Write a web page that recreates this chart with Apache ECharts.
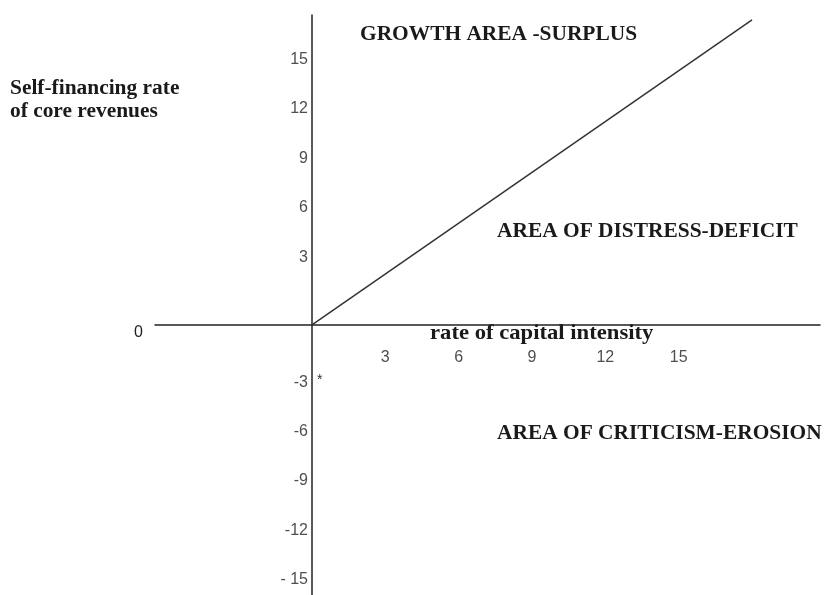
<!DOCTYPE html>
<html>
<head>
<meta charset="utf-8">
<script src="https://cdn.jsdelivr.net/npm/echarts@6/dist/echarts.min.js"></script>
<style>html,body{margin:0;padding:0;background:#fff}#c{width:825px;height:595px}</style>
</head>
<body>
<div id="c"></div>
<script>
// Data
var yTickValues = [15, 12, 9, 6, 3, -3, -6, -9, -12, -15];
var yTickLabels = ['15', '12', '9', '6', '3', '-3', '-6', '-9', '-12', '- 15'];
var xTickValues = [3, 6, 9, 12, 15];
var xTickLabels = ['3', '6', '9', '12', '15'];
var lineX = [0, 18];
var lineY = [0, 18.5];
var regionLabels = ['GROWTH AREA -SURPLUS', 'AREA OF DISTRESS-DEFICIT', 'AREA OF CRITICISM-EROSION'];
var xAxisTitle = 'rate of capital intensity';
var yAxisTitle = 'Self-financing rate\nof core revenues';

var chart = echarts.init(document.getElementById('c'));
var sans = 'Liberation Sans';
var lineData = lineX.map(function (x, i) { return [x, lineY[i]]; });
var yTickData = yTickValues.map(function (v, i) {
  return {
    value: [0, v],
    label: { formatter: yTickLabels[i], offset: [0, v > 0 ? -18 : 8] }
  };
});
var xTickData = xTickValues.map(function (v, i) {
  return { value: [v, 0], label: { formatter: xTickLabels[i] } };
});
var boldSerif = function (size) { return 'bold ' + size + 'px "Liberation Serif"'; };
function label(text, left, top, size, sx, lh) {
  return {
    type: 'text', left: left, top: top, scaleX: sx, originX: 0, originY: 0,
    style: { text: text, font: boldSerif(size), fill: '#1a1a1a', lineHeight: lh || size + 2 }
  };
}

chart.setOption({
  animation: false,
  backgroundColor: '#fff',
  grid: { left: 155, right: 5, top: 15, bottom: 0 },
  xAxis: {
    type: 'value', min: -6.42, max: 20.78,
    axisLine: { onZero: true, lineStyle: { color: '#222', width: 1.5 } },
    axisTick: { show: false }, axisLabel: { show: false }, splitLine: { show: false }
  },
  yAxis: {
    type: 'value', min: -16.4, max: 18.8,
    axisLine: { onZero: true, lineStyle: { color: '#222', width: 1.5 } },
    axisTick: { show: false }, axisLabel: { show: false }, splitLine: { show: false }
  },
  series: [
    {
      type: 'line', data: lineData, symbol: 'none', silent: true,
      lineStyle: { color: '#333', width: 1.5 }
    },
    {
      type: 'scatter', data: yTickData, symbolSize: 0, silent: true, clip: false,
      label: { show: true, position: 'left', distance: 4, color: '#222', fontFamily: sans, fontSize: 16 }
    },
    {
      type: 'scatter', data: xTickData, symbolSize: 0, silent: true, clip: false,
      label: { show: true, position: 'bottom', distance: 25, color: '#222', fontFamily: sans, fontSize: 16 }
    }
  ],
  graphic: [
    label(yAxisTitle, 10, 77, 20, 1.07, 23),
    { type: 'text', left: 134, top: 325, style: { text: '0', font: '16px "Liberation Sans"', fill: '#222' } },
    label(xAxisTitle, 430, 321, 22, 1.03),
    label(regionLabels[0], 360, 24, 20, 1.07),
    label(regionLabels[1], 497, 221, 20, 1.07),
    label(regionLabels[2], 497, 423, 20, 1.07),
    { type: 'text', left: 317, top: 373, style: { text: '*', font: '14px "Liberation Sans"', fill: '#333' } }
  ]
});
</script>
</body>
</html>
